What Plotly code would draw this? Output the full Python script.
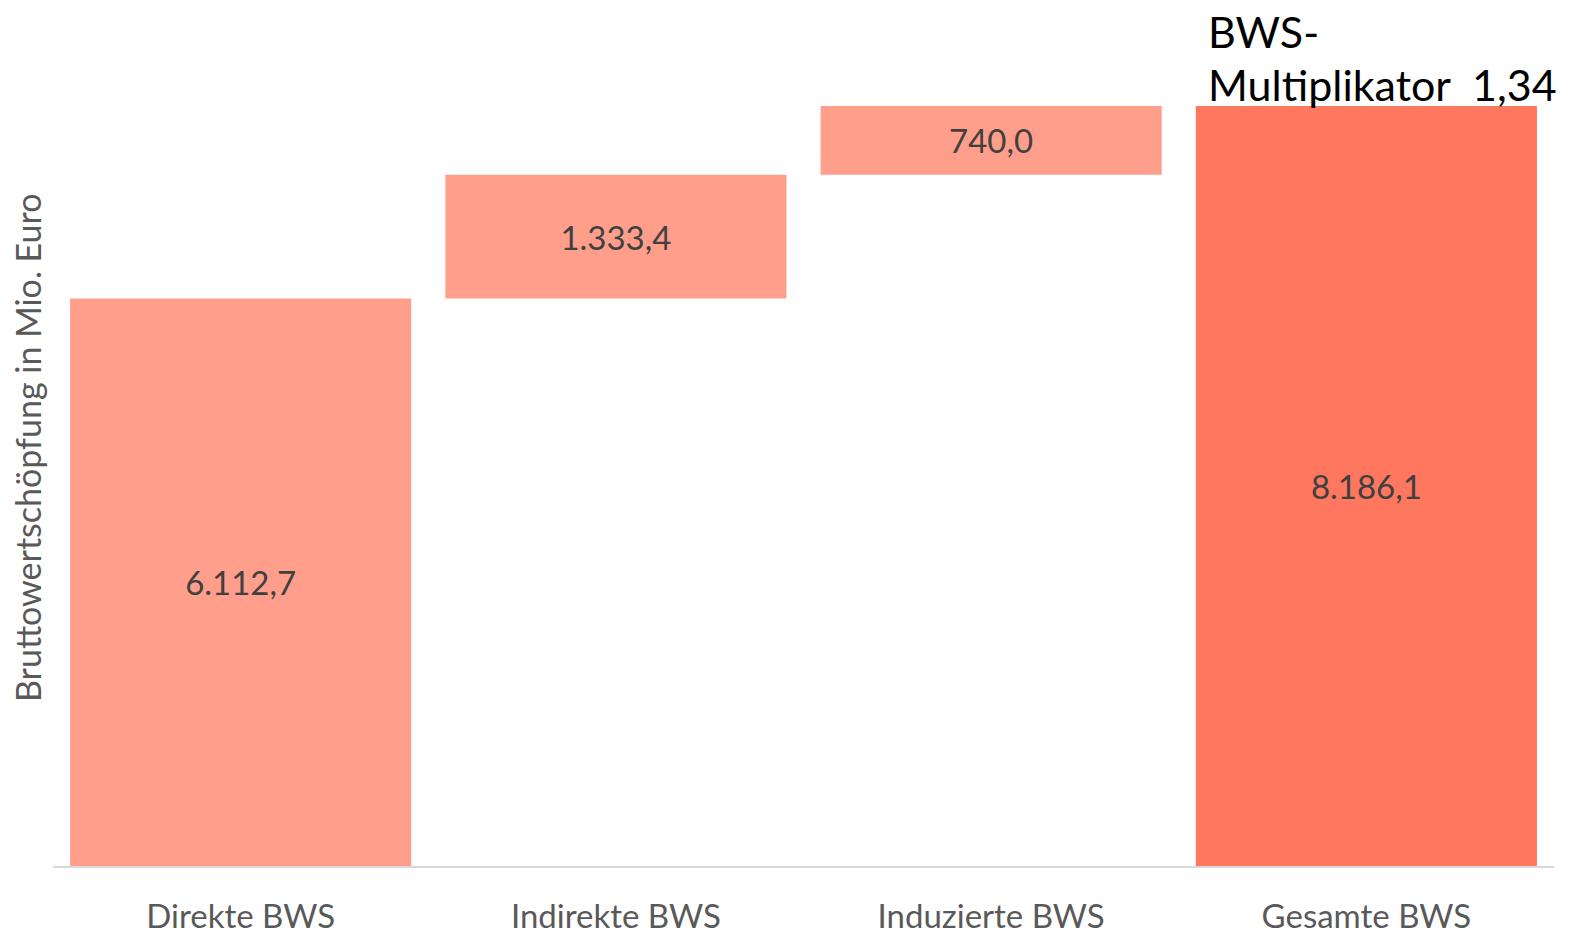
import plotly.graph_objects as go

categories = ["Direkte BWS", "Indirekte BWS", "Induzierte BWS", "Gesamte BWS"]
values = [6112.7, 1333.4, 740.0, 8186.1]
bases = [0, 6112.7, 7446.1, 0]
labels = ["6.112,7", "1.333,4", "740,0", "8.186,1"]
colors = ["#FF9E8B", "#FF9E8B", "#FF9E8B", "#FF775F"]
note_lines = ["BWS-", "Multiplikator  1,34"]

FONT = "Lato, Open Sans, sans-serif"
L, R, T, B = 45, 33, 98, 76
W, H = 1579, 934
pw = W - L - R
ph = H - T - B

fig = go.Figure()
fig.add_trace(go.Bar(
    x=categories, y=values, base=bases,
    marker=dict(color=colors, line=dict(width=0)),
    text=labels, textposition="inside", insidetextanchor="middle",
    textfont=dict(family=FONT, size=33, color="#404040"),
    textangle=0, hoverinfo="skip",
))

fig.update_layout(
    width=W, height=H,
    margin=dict(l=L, r=R, t=T, b=B),
    paper_bgcolor="white", plot_bgcolor="white",
    bargap=0.091, showlegend=False,
    font=dict(family=FONT),
    uniformtext=dict(minsize=10, mode="show"),
)
fig.update_xaxes(
    showline=True, linecolor="#D9D9D9", linewidth=2, showgrid=False,
    tickfont=dict(size=33, color="#595959"), ticks="", ticklabelstandoff=20,
    automargin=False,
)
fig.update_yaxes(
    range=[0, 8186.1], visible=False, showgrid=False, zeroline=False, automargin=False,
)
fig.add_annotation(
    text="Bruttowertschöpfung in Mio. Euro", xref="paper", yref="paper",
    x=(20 - L) / pw, xanchor="center", y=(H - B - 440) / ph, yanchor="middle",
    textangle=-90, showarrow=False,
    font=dict(size=34, color="#595959"),
)
for i, (line, shift) in enumerate(zip(note_lines, [47, -6])):
    fig.add_annotation(
        text=line, xref="paper", yref="paper",
        x=(1198 - L) / pw, xanchor="left", y=1.0, yanchor="bottom", yshift=shift,
        align="left", showarrow=False,
        font=dict(size=43, color="#000000"),
    )

fig.write_html("out.html")
